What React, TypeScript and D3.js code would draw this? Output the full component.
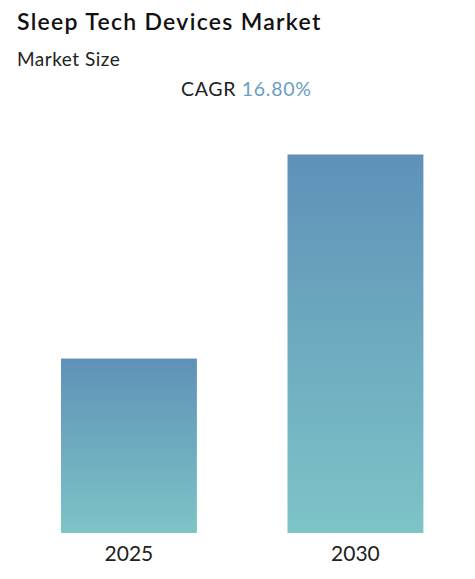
import React from "react"
import * as d3 from "d3"

const years = ["2025", "2030"]
const marketSize = [1.0, 2.17]
const cagrLabel = "16.80%"

const W = 475
const H = 579

export default function App() {
    const x = d3.scaleBand<string>()
        .domain(years)
        .range([15.7, 468.7])
        .paddingInner(0.4)
        .paddingOuter(0.2)

    const y = d3.scaleLinear()
        .domain([0, d3.max(marketSize) as number])
        .range([533, 154.5])

    const font = "Lato, 'Open Sans', sans-serif"

    return (
        <svg width={W} height={H} style={{ position: "absolute", left: 0, top: 0 }} fontFamily={font}>
            <defs>
                <linearGradient id="barGrad" x1="0" y1="0" x2="0" y2="1">
                    <stop offset="0%" stopColor="#5f91b8" />
                    <stop offset="100%" stopColor="#7dc4c7" />
                </linearGradient>
            </defs>
            <rect width={W} height={H} fill="#fff" />
            <text x={17} y={30} fontSize={23} fontWeight={600} fill="#111" letterSpacing={1.3}>Sleep Tech Devices Market</text>
            <text x={17} y={66} fontSize={19} fill="#222" letterSpacing={0.5}>Market Size</text>
            <text x={181} y={96} fontSize={19.5} fill="#222" letterSpacing={0.7}>
                CAGR <tspan fill="#6a9ec4">{cagrLabel}</tspan>
            </text>
            {years.map((yr, i) => (
                <g key={yr}>
                    <rect
                        x={x(yr)}
                        y={y(marketSize[i])}
                        width={x.bandwidth()}
                        height={y(0) - y(marketSize[i])}
                        fill="url(#barGrad)"
                    />
                    <text
                        x={(x(yr) as number) + x.bandwidth() / 2}
                        y={561}
                        textAnchor="middle"
                        fontSize={21}
                        fill="#222"
                    >{yr}</text>
                </g>
            ))}
        </svg>
    )
}
